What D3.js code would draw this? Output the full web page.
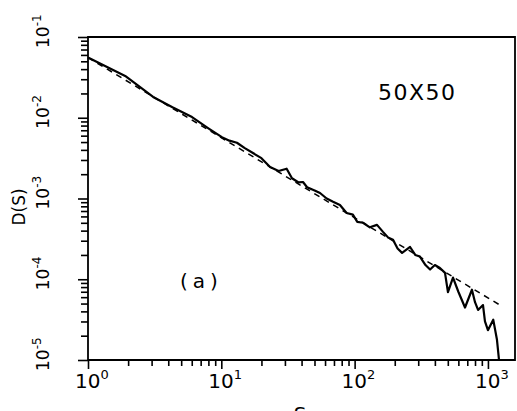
<!DOCTYPE html>
<html>
<head>
<meta charset="utf-8">
<script src="https://cdn.jsdelivr.net/npm/d3@7"></script>
<style>
  body { margin: 0; background: #fff; }
  svg text { font-family: "DejaVu Sans", "Liberation Sans", sans-serif; fill: #000; }
</style>
</head>
<body>
<svg id="chart" width="517" height="411"></svg>
<script>
// cluster size S and distribution D(S)
const sizes = [1, 1.9, 3.08, 4.3, 6.03, 8.0, 10.1, 11.5, 13.1, 15.0, 17.4, 20.0, 23.2, 26.9, 30.9,
  33.9, 38.0, 41.0, 44.0, 50.1, 55.0, 61.7, 68.9, 77.6, 87.1, 97.0, 104.7, 115.6, 130, 147.2,
  163.3, 178, 194.1, 210, 227.0, 260.6, 285, 309.0, 340, 368.1, 400, 436.5, 476.4, 501.2, 547.0,
  600, 673.0, 758.6, 800, 843.3, 918.3, 950, 1000, 1096, 1169, 1211];
const dist = [0.0556, 0.0329, 0.0181, 0.0135, 0.0102, 0.0074, 0.00575, 0.0052, 0.0049, 0.0042,
  0.00363, 0.00316, 0.00245, 0.00219, 0.00234, 0.00178, 0.00158, 0.00160, 0.00138, 0.00126,
  0.00117, 0.00100, 0.000912, 0.000832, 0.000661, 0.000631, 0.000513, 0.000501, 0.000440, 0.000471,
  0.000386, 0.000330, 0.000309, 0.000240, 0.000212, 0.000251, 0.000200, 0.000191, 0.000150, 0.000132,
  0.000150, 0.000138, 0.000120, 0.0000692, 0.000105, 0.0000700, 0.0000447, 0.0000741, 0.0000520, 0.0000417,
  0.0000479, 0.0000300, 0.0000234, 0.0000316, 0.0000178, 0.00001];

// power-law fit (dashed)
const fitSizes = [1, 1230];
const fitDist = [0.0556, 0.0000479];

const xTickExps = [0, 1, 2, 3];
const yTickExps = [-5, -4, -3, -2, -1];

const svg = d3.select("#chart");

const x = d3.scaleLog().domain([1, 1596]).range([88, 515]);
const y = d3.scaleLog().domain([1e-5, 1e-1]).range([360, 37]);

// minor tick values 2..9 in every decade
const minorX = [];
for (let e = 0; e <= 3; e++) for (let m = 2; m <= 9; m++) if (m * 10 ** e < 1596) minorX.push(m * 10 ** e);
const minorY = [];
for (let e = -5; e < -1; e++) for (let m = 2; m <= 9; m++) minorY.push(m * 10 ** e);

const axisStyle = g => {
  g.select(".domain").remove();
  g.selectAll("text").remove();
  g.selectAll("line").attr("stroke", "#000").attr("stroke-width", 1.6);
};

svg.append("g").attr("transform", "translate(0,360)")
  .call(d3.axisBottom(x).tickValues(minorX).tickSize(6)).call(axisStyle);
svg.append("g").attr("transform", "translate(0,360)")
  .call(d3.axisBottom(x).tickValues(xTickExps.map(e => 10 ** e)).tickSize(9)).call(axisStyle);
svg.append("g").attr("transform", "translate(88,0)")
  .call(d3.axisLeft(y).tickValues(minorY).tickSize(7)).call(axisStyle);
svg.append("g").attr("transform", "translate(88,0)")
  .call(d3.axisLeft(y).tickValues(yTickExps.map(e => 10 ** e)).tickSize(10)).call(axisStyle);

// frame
svg.append("path")
  .attr("d", `M88,360H515V37H88Z`)
  .attr("fill", "none").attr("stroke", "#000").attr("stroke-width", 1.8);

// x tick labels
xTickExps.forEach(e => {
  const t = svg.append("text")
    .attr("transform", `translate(${x(10 ** e)},388)`)
    .attr("x", -13).attr("font-size", 20);
  t.append("tspan").text("10");
  t.append("tspan").attr("dy", -9).attr("font-size", 13).text(e);
});

// y tick labels (rotated)
yTickExps.forEach(e => {
  const t = svg.append("text")
    .attr("transform", `translate(49,${y(10 ** e)}) rotate(-90)`)
    .attr("x", -11).attr("font-size", 17);
  t.append("tspan").text("10");
  t.append("tspan").attr("dy", -8).attr("font-size", 12).text(e);
});

// axis titles (S is clipped by the bottom edge, as in the original)
svg.append("text").attr("x", 300).attr("y", 421).attr("text-anchor", "middle")
  .attr("font-size", 20).text("S");
svg.append("text").attr("transform", "translate(25,207) rotate(-90)")
  .attr("text-anchor", "middle").attr("font-size", 17).text("D(S)");

// annotations
svg.append("text").attr("x", 378).attr("y", 100).attr("font-size", 22)
  .attr("letter-spacing", 1.5).text("50X50");
svg.append("text").attr("x", 180).attr("y", 288).attr("font-size", 20)
  .attr("letter-spacing", 5).text("(a)");

const line = d3.line().x(d => x(d[0])).y(d => y(d[1]));

svg.append("path")
  .datum(fitSizes.map((s, i) => [s, fitDist[i]]))
  .attr("d", line)
  .attr("fill", "none").attr("stroke", "#000").attr("stroke-width", 1.5)
  .attr("stroke-dasharray", "6,5");

svg.append("path")
  .datum(sizes.map((s, i) => [s, dist[i]]))
  .attr("d", line)
  .attr("fill", "none").attr("stroke", "#000").attr("stroke-width", 2.2)
  .attr("stroke-linejoin", "round");
</script>
</body>
</html>
